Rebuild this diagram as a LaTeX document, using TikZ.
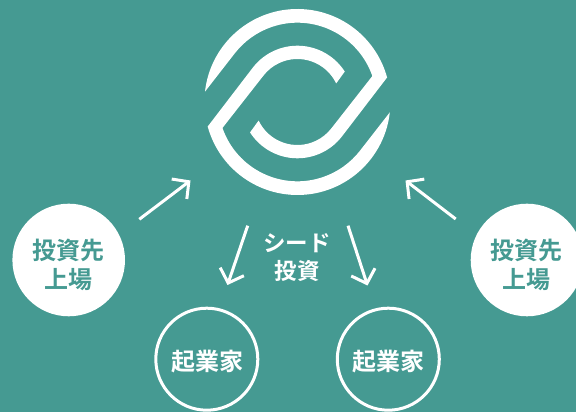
\documentclass[tikz,border=0pt]{standalone}
\usepackage{fontspec}
\usetikzlibrary{arrows.meta}
\newfontfamily\jpfont{Noto Sans CJK JP}[BoldFont={Noto Sans CJK JP Bold}]
\definecolor{teal1}{RGB}{69,154,146}
\tikzset{
  x=1pt,y=1pt,
  label text/.style={font=\jpfont\bfseries\fontsize{24}{28.5}\selectfont,align=center,inner sep=0pt},
  solid disc/.style={circle,fill=white,minimum size=112.6pt,inner sep=0pt},
  ring disc/.style={circle,draw=white,line width=3pt,minimum size=102pt,inner sep=0pt},
  flow arrow/.style={draw=white,line width=3pt,-{Straight Barb[length=12pt,width=25pt]}},
  logo part/.style={fill=white,draw=none}
}
\newcommand{\logopart}{%
  (173.6:93) arc[start angle=173.6,end angle=15.3,radius=93]
  -- (-37.6:56.3) arc[start angle=-37.6,end angle=-147.3,radius=56.3]
  -- (-154.4:43) arc[start angle=-154.4,end angle=-37.6,radius=43]
  -- (19.1:79.3) arc[start angle=19.1,end angle=142.1,radius=79.3]
  -- cycle}
\begin{document}
\begin{tikzpicture}
\useasboundingbox (0,0) rectangle (576,412);
\clip (0,0) rectangle (576,412);
\fill[teal1] (0,0) rectangle (576,412);
% logo
\begin{scope}[shift={(297.4,310)}]
  \path[logo part] \logopart;
  \path[logo part,rotate=180] \logopart;
\end{scope}
\coordinate (logoL) at (190.5,231.5);
\coordinate (logoR) at (405.5,231.5);
\coordinate (seedL) at (247.7,186.3);
\coordinate (seedR) at (348,186.3);
\coordinate (listLout) at (139.3,192.7);
\coordinate (listRout) at (455.7,193);
\coordinate (entLin) at (227.5,127);
\coordinate (entRin) at (367.5,126.5);
% circles
\node[solid disc] (listL) at (68.7,152) {};
\node[solid disc] (listR) at (527,152) {};
\node[ring disc] (entL) at (206.8,52.8) {};
\node[ring disc] (entR) at (388.3,52.8) {};
% texts
\node[label text,text=teal1] (listLt) at (68.5,147) {投資先\\上場};
\node[label text,text=teal1] (listRt) at (526.5,147) {投資先\\上場};
\node[label text,text=white] (entLt) at (207,50.5) {起業家};
\node[label text,text=white] (entRt) at (388.5,50.5) {起業家};
\node[label text,text=white,font=\jpfont\bfseries\fontsize{22.5}{28.5}\selectfont] (seed) at (297,154.5) {シード\\投資};
% arrows
\draw[flow arrow] (listLout) -- (logoL);
\draw[flow arrow] (listRout) -- (logoR);
\draw[flow arrow] (seedL) -- (entLin);
\draw[flow arrow] (seedR) -- (entRin);
\end{tikzpicture}
\end{document}
